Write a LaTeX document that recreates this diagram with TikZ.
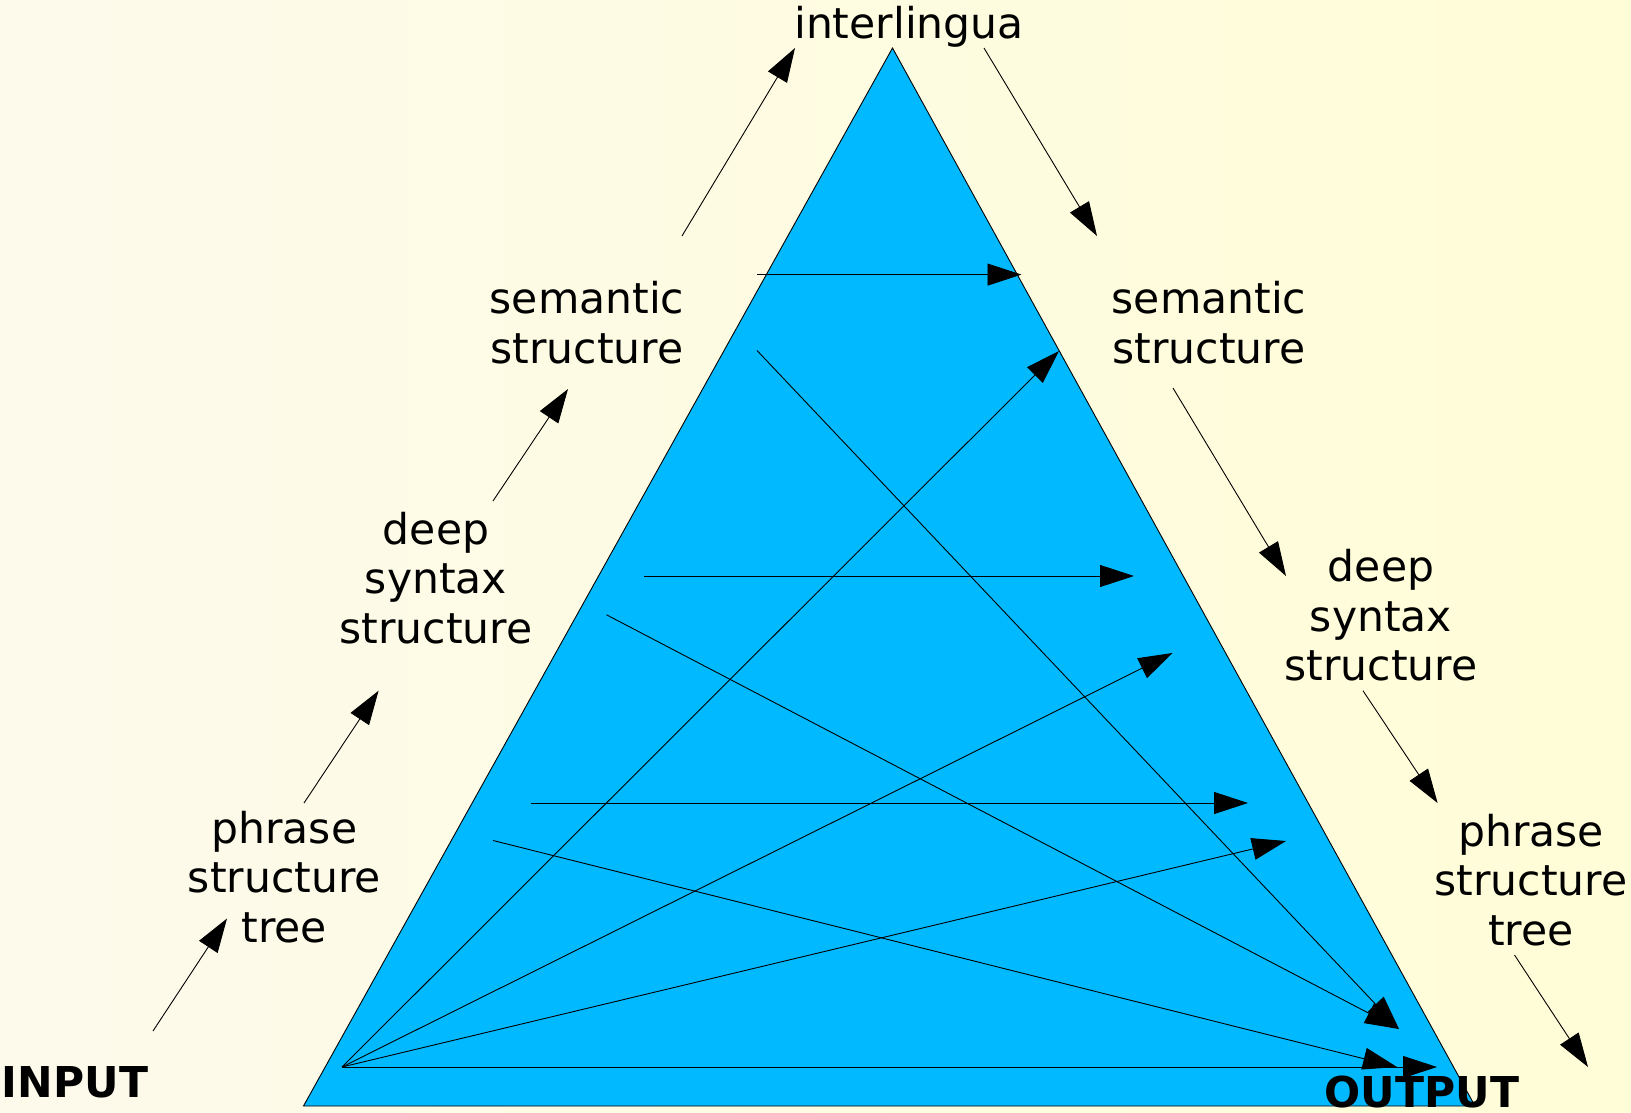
\documentclass[tikz,border=0pt]{standalone}
\usepackage{fontspec}
\setmainfont{DejaVu Sans}
\usetikzlibrary{arrows.meta}
\definecolor{bgleft}{RGB}{253,250,236}
\definecolor{bgright}{RGB}{255,253,215}
\definecolor{tri}{RGB}{0,185,255}
\begin{document}
\begin{tikzpicture}[x=1pt,y=-1pt,
  lbl/.style={inner sep=0pt,align=center,font=\fontsize{42.5}{49.5}\selectfont},
  bold/.style={inner sep=0pt,font=\fontsize{42.5}{49.5}\selectfont\bfseries},
  arr/.style={line width=0.9pt,-{Triangle[length=34pt,width=22pt]}}]
\useasboundingbox (0,0) rectangle (1631,1113);
\shade[left color=bgleft,right color=bgright] (0,0) rectangle (1631,1113);
% triangle
\draw[fill=tri,line width=0.9pt] (892.5,48) -- (1475,1106) -- (303.5,1106) -- cycle;
% labels
\node[lbl,anchor=base] (inter) at (909,38.3) {interlingua};
\node[lbl] (semL) at (587,322.6) {semantic\\structure};
\node[lbl] (semR) at (1209,322.6) {semantic\\structure};
\node[lbl] (deepL) at (436,578) {deep\\syntax\\structure};
\node[lbl] (deepR) at (1381,615.4) {deep\\syntax\\structure};
\node[lbl] (phrL) at (284.3,877) {phrase\\structure\\tree};
\node[lbl] (phrR) at (1531,880) {phrase\\structure\\tree};
\node[bold,anchor=base] (input) at (75,1097) {INPUT};
\node[bold,anchor=base] (output) at (1422,1107.6) {OUTPUT};
% coordinates
\coordinate (src) at (342,1067);
\coordinate (t1) at (1059,351);
\coordinate (t2) at (1172.5,653);
\coordinate (t3) at (1286,841);
\coordinate (t4) at (1437,1067);
\coordinate (s5) at (757,350.5);
\coordinate (s6) at (606.5,614.8);
\coordinate (e56) at (1399,1029);
\coordinate (s7) at (493,840.5);
\coordinate (e7) at (1397,1067);
\coordinate (h1a) at (757,274.6);
\coordinate (h1b) at (1021.5,274.6);
\coordinate (h2a) at (644,576);
\coordinate (h2b) at (1134,576);
\coordinate (h3a) at (530.5,803);
\coordinate (h3b) at (1248,803);
\coordinate (l1a) at (153,1031);
\coordinate (l1b) at (227,918.5);
\coordinate (l2a) at (304,803);
\coordinate (l2b) at (378.6,690.7);
\coordinate (l3a) at (493,501);
\coordinate (l3b) at (568,389);
\coordinate (l4a) at (682,236);
\coordinate (l4b) at (795,48);
\coordinate (r1a) at (984,48);
\coordinate (r1b) at (1097,236);
\coordinate (r2a) at (1173,388);
\coordinate (r2b) at (1286,576);
\coordinate (r3a) at (1363,690.7);
\coordinate (r3b) at (1437.6,803);
\coordinate (r4a) at (1514.5,955);
\coordinate (r4b) at (1588,1067);
% inner arrows
\draw[arr] (src) -- (t1);
\draw[arr] (src) -- (t2);
\draw[arr] (src) -- (t3);
\draw[arr] (src) -- (t4);
\draw[arr] (s5) -- (e56);
\draw[arr] (s6) -- (e56);
\draw[arr] (s7) -- (e7);
\draw[arr] (h1a) -- (h1b);
\draw[arr] (h2a) -- (h2b);
\draw[arr] (h3a) -- (h3b);
% outer arrows
\draw[arr] (l1a) -- (l1b);
\draw[arr] (l2a) -- (l2b);
\draw[arr] (l3a) -- (l3b);
\draw[arr] (l4a) -- (l4b);
\draw[arr] (r1a) -- (r1b);
\draw[arr] (r2a) -- (r2b);
\draw[arr] (r3a) -- (r3b);
\draw[arr] (r4a) -- (r4b);
\end{tikzpicture}
\end{document}
